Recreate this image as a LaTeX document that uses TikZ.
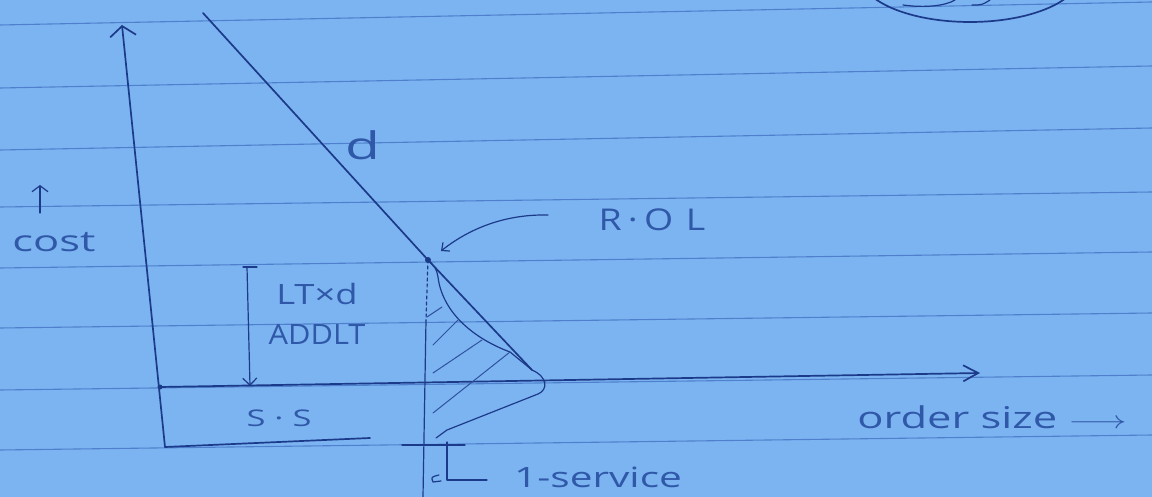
\documentclass[tikz,border=0pt]{standalone}
\usepackage{fontspec}
\usetikzlibrary{arrows.meta}
\newfontfamily\hand{Open Sans}
\definecolor{paper}{RGB}{124,180,241}
\definecolor{rulec}{RGB}{78,128,205}
\definecolor{inkc}{RGB}{28,58,138}
\definecolor{textc}{RGB}{48,88,168}
\begin{document}
\begin{tikzpicture}[x=1pt,y=-1pt,
  ink/.style={draw=inkc, line width=1.7pt, line cap=round, line join=round},
  thinink/.style={draw=inkc, line width=1.2pt, line cap=round, line join=round},
  hatch/.style={draw=inkc!80!paper, line width=1pt, line cap=round},
  rule/.style={draw=rulec, line width=1.1pt},
  lbl/.style={text=textc, inner sep=0pt}]
\useasboundingbox (0,0) rectangle (1152,497);
\fill[paper] (0,0) rectangle (1152,497);
\clip (0,0) rectangle (1152,497);
% ruled paper
\foreach \a/\b in {25/2, 88/66, 150/128, 207/192, 268/252, 328/313, 390/375, 450/435}
  \draw[rule] (0,\a) -- (1152,\b);
% circled mark, top right
\draw[ink] (970,-25) ellipse [x radius=110pt, y radius=47pt];
\draw[thinink] (903,5) .. controls (925,8) and (945,6) .. (955,0);
\draw[thinink] (972,5) .. controls (982,5) .. (990,0);
% axes
\coordinate (O) at (165,447);
\coordinate (ytop) at (122,25);
\coordinate (ydot) at (160,387);
\coordinate (xtip) at (980,373);
\coordinate (baseR) at (370,438);
\draw[ink, -{Straight Barb[length=10pt,width=26pt]}] (O) -- (ytop);
\draw[ink, -{Straight Barb[length=15pt,width=16pt]}] (ydot) -- (xtip);
\draw[ink] (O) -- (baseR);
\fill[inkc] (ydot) circle (2.5pt);
% demand line
\coordinate (dtop) at (203,13);
\coordinate (rol) at (428,260);
\coordinate (peak) at (532,370);
\draw[ink] (dtop) -- (rol) -- (peak);
\fill[inkc] (rol) circle (3pt);
% vertical through ROL
\coordinate (vmid) at (426,320);
\coordinate (vbot) at (423,497);
\draw[thinink, dashed] (rol) -- (vmid);
\draw[thinink] (vmid) -- (vbot);
% bell-shaped distribution
\coordinate (b1) at (438,277);
\coordinate (b2) at (510,352);
\coordinate (b3) at (538,394);
\coordinate (b4) at (447,430);
\coordinate (b5) at (436,438);
\draw[thinink] (rol) .. controls (436,268) .. (b1) .. controls (442,310) and (470,337) .. (b2) -- (peak)
  .. controls (548,377) and (548,390) .. (b3) -- (b4) -- (b5);
% hatching
\draw[hatch] (427,317) -- (442,307);
\draw[hatch] (433,345) -- (458,320);
\draw[hatch] (433,373) -- (482,340);
\draw[hatch] (433,413) -- (510,352);
% service tick
\coordinate (t1) at (402,445);
\coordinate (t2) at (465,445);
\coordinate (s1) at (447,442);
\coordinate (s2) at (447,480);
\coordinate (s3) at (487,480);
\draw[thinink] (t1) -- (t2);
\draw[thinink] (s1) -- (s2) -- (s3);
\draw[thinink] (439,475) .. controls (431,477) .. (433,482) -- (441,481);
% LT x d bracket
\coordinate (bt) at (247,267);
\coordinate (bb) at (250,386);
\draw[thinink] (243,267) -- (257,267);
\draw[thinink, -{Straight Barb[length=7pt,width=14pt]}] (bt) -- (bb);
% ROL pointer
\coordinate (rs) at (548,215);
\coordinate (re) at (441,251);
\draw[thinink, -{Straight Barb[length=6pt,width=11pt]}] (rs) .. controls (500,214) and (465,232) .. (re);
% cost arrow
\coordinate (cs) at (40,213);
\coordinate (ct) at (40,185);
\draw[thinink, -{Straight Barb[length=6pt,width=16pt]}] (cs) -- (ct);
% labels
\node[lbl, font={\hand\fontsize{29}{30}\selectfont}, xscale=1.5] (cost) at (54,242) {cost};
\node[lbl, font={\hand\fontsize{38}{40}\selectfont}, xscale=1.5] (dl) at (363,145) {d};
\node[lbl, font={\hand\fontsize{30}{32}\selectfont}, xscale=1.25] (rolt) at (652,220) {R\hspace{5pt}·\hspace{5pt}O\hspace{10pt}L};
\node[lbl, font={\hand\fontsize{28}{30}\selectfont}, xscale=1.3] (ltd) at (317,294) {LT×d};
\node[lbl, font={\hand\fontsize{28}{30}\selectfont}, xscale=1.1] (addlt) at (317,334) {ADDLT};
\node[lbl, font={\hand\fontsize{23}{25}\selectfont}, xscale=1.5] (ss) at (279,418) {S · S};
\node[lbl, font={\hand\fontsize{30}{32}\selectfont}, xscale=1.45] (os) at (992,417) {order size $\longrightarrow$};
\node[lbl, font={\hand\fontsize{28}{30}\selectfont}, xscale=1.45] (serv) at (598,477) {1-service};
\end{tikzpicture}
\end{document}
